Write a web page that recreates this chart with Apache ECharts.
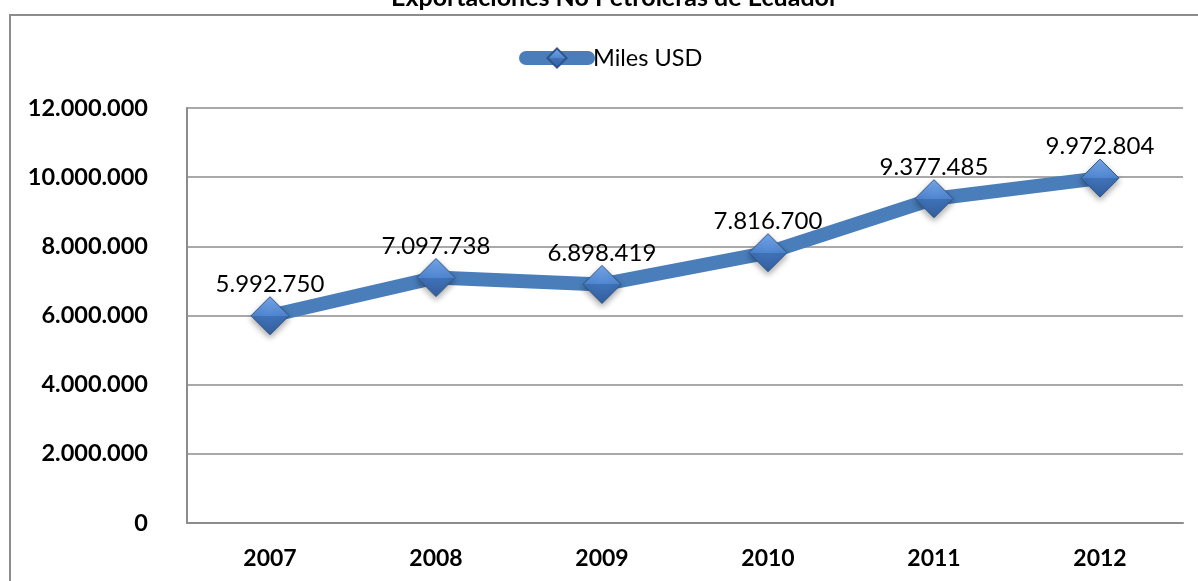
<!DOCTYPE html>
<html>
<head>
<meta charset="utf-8">
<script src="https://cdn.jsdelivr.net/npm/echarts@6/dist/echarts.min.js"></script>
<style>
    html, body { margin: 0; padding: 0; background: #fff; }
    #chart { width: 1198px; height: 581px; }
</style>
</head>
<body>
<div id="chart"></div>
<script>
    var years = ['2007', '2008', '2009', '2010', '2011', '2012'];
    var milesUsd = [5992750, 7097738, 6898419, 7816700, 9377485, 9972804];
    var seriesName = 'Miles USD';
    var chartTitle = 'Exportaciones No Petroleras de Ecuador';

    var font = 'Lato, "Open Sans", sans-serif';

    function fmt(v) {
        return String(v).replace(/\B(?=(\d{3})+(?!\d))/g, '.');
    }

    var markerColor = new echarts.graphic.LinearGradient(0, 0, 0, 1, [
        { offset: 0, color: '#7aaaf0' },
        { offset: 0.5, color: '#4f86d0' },
        { offset: 0.5, color: '#3f72b8' },
        { offset: 1, color: '#35609e' }
    ]);

    var chart = echarts.init(document.getElementById('chart'));
    chart.setOption({
        animation: false,
        title: {
            text: chartTitle,
            left: 386,
            top: -20,
            textStyle: { fontFamily: font, fontSize: 25, fontWeight: 'bold', color: '#000' }
        },
        graphic: [{
            type: 'rect',
            shape: { x: 10, y: 15, width: 1200, height: 600 },
            style: { fill: 'none', stroke: '#8c8c8c', lineWidth: 2 },
            z: -1
        }],
        legend: {
            top: 41,
            left: 514,
            itemWidth: 62,
            itemHeight: 24,
            itemGap: 0,
            lineStyle: { width: 14, color: '#4a7ebb', cap: 'round' },
            textStyle: { fontFamily: font, fontSize: 23.5, color: '#000' },
            data: [seriesName]
        },
        grid: { left: 187, right: 15, top: 108, bottom: 58 },
        xAxis: {
            type: 'category',
            data: years,
            axisLine: { lineStyle: { color: '#8c8c8c', width: 2 } },
            axisTick: { show: false },
            axisLabel: { fontFamily: font, fontSize: 23, fontWeight: 'bold', color: '#000', margin: 24 }
        },
        yAxis: {
            type: 'value',
            min: 0,
            max: 12000000,
            interval: 2000000,
            axisLine: { show: true, lineStyle: { color: '#8c8c8c', width: 2 } },
            axisTick: { show: false },
            splitLine: { lineStyle: { color: '#8c8c8c', width: 1.5 } },
            axisLabel: {
                fontFamily: font, fontSize: 23.5, fontWeight: 'bold', color: '#000', margin: 39,
                formatter: fmt
            }
        },
        series: [{
            name: seriesName,
            type: 'line',
            data: milesUsd,
            symbol: 'diamond',
            symbolSize: 38,
            lineStyle: { color: '#4a7ebb', width: 14 },
            itemStyle: {
                color: markerColor,
                borderColor: '#2e5586',
                borderWidth: 1,
                shadowColor: 'rgba(0,0,0,0.35)',
                shadowBlur: 6,
                shadowOffsetY: 3
            },
            label: {
                show: true,
                position: 'top',
                distance: 0,
                fontFamily: font,
                fontSize: 24,
                color: '#000',
                formatter: function (p) { return fmt(p.value); }
            }
        }]
    });
</script>
</body>
</html>
